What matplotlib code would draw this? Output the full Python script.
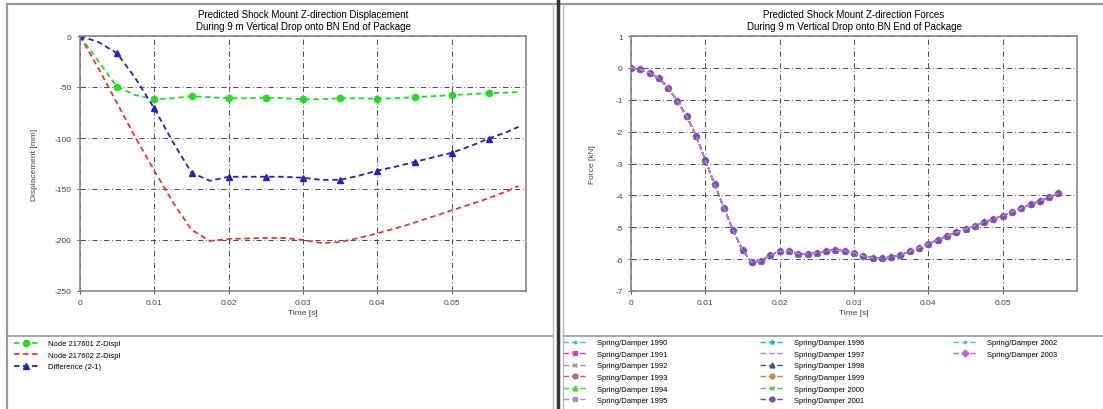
import matplotlib
matplotlib.use("Agg")
import matplotlib.pyplot as plt
from matplotlib.lines import Line2D

plt.rcParams["font.family"] = ["Liberation Sans", "DejaVu Sans"]

W, H = 1103, 410

# displacement data [mm]
t_disp = [0, 0.0025, 0.005, 0.0075, 0.01, 0.0125, 0.015, 0.0175, 0.02, 0.0225,
          0.025, 0.0275, 0.03, 0.0325, 0.035, 0.0375, 0.04, 0.0425, 0.045, 0.0475,
          0.05, 0.0525, 0.055, 0.0575, 0.059]
node1_disp = [0, -25, -50, -58, -62, -61, -59, -60, -61, -61,
              -60.5, -61, -62, -62, -61, -61, -61.5, -61, -60, -59,
              -58, -57, -56, -55.5, -55]
node2_disp = [0, -32, -66, -100, -132, -163, -190, -201, -199, -198.5,
              -198, -198, -200, -203, -202, -198, -193.5, -188.5, -183, -177,
              -171, -165, -159, -152, -147]
diff_disp = [0, -6, -17, -42, -71, -104, -134, -142, -138, -138,
             -138, -138, -139, -141, -141, -137, -132, -128, -123.5, -119,
             -114.5, -108, -100.5, -94, -89]
disp_labels = ["Node 217601 Z-Displ", "Node 217602 Z-Displ", "Difference (2-1)"]

# spring/damper force data [kN]
t_force = [0, 0.00125, 0.0025, 0.00375, 0.005, 0.00625, 0.0075, 0.00875, 0.01, 0.01125,
           0.0125, 0.01375, 0.015, 0.01625, 0.0175, 0.01875, 0.02, 0.02125, 0.0225, 0.02375,
           0.025, 0.02625, 0.0275, 0.02875, 0.03, 0.03125, 0.0325, 0.03375, 0.035, 0.03625,
           0.0375, 0.03875, 0.04, 0.04125, 0.0425, 0.04375, 0.045, 0.04625, 0.0475, 0.04875,
           0.05, 0.05125, 0.0525, 0.05375, 0.055, 0.05625, 0.0575]
force = [0.0, -0.05, -0.15, -0.33, -0.62, -1.05, -1.52, -2.13, -2.9, -3.65,
         -4.4, -5.1, -5.72, -6.1, -6.05, -5.88, -5.75, -5.74, -5.83, -5.84,
         -5.81, -5.74, -5.71, -5.74, -5.8, -5.9, -5.96, -5.98, -5.93, -5.87,
         -5.76, -5.64, -5.52, -5.4, -5.27, -5.16, -5.06, -4.95, -4.84, -4.74,
         -4.64, -4.51, -4.4, -4.28, -4.18, -4.06, -3.93]
damper_ids = [1990, 1991, 1992, 1993, 1994, 1995, 1996, 1997, 1998, 1999,
              2000, 2001, 2002, 2003]
damper_colors = ["#33cccc", "#cc44cc", "#999999", "#bb6666", "#44dd44", "#9999cc",
                 "#22bbcc", "#dd77cc", "#445577", "#cc8855", "#55cc55", "#6655bb",
                 "#44cccc", "#bb66cc"]
damper_markers = [".", "s", "x", "o", "^", "s", "*", "", "^", "o", "x", "o", ".", "D"]

disp_ticks_x = [0, 0.01, 0.02, 0.03, 0.04, 0.05]
disp_ticks_y = [0, -50, -100, -150, -200, -250]
force_ticks_y = [1, 0, -1, -2, -3, -4, -5, -6, -7]


def px(x):
    return x / W


def py(y):
    return 1 - y / H


def style_axes(ax, yticks):
    ax.set_xlim(0, 0.06)
    ax.set_xticks(disp_ticks_x)
    ax.set_xticklabels(["0", "0.01", "0.02", "0.03", "0.04", "0.05"])
    ax.set_yticks(yticks)
    ax.set_ylim(min(yticks), max(yticks))
    ax.grid(True, color="#444444", linestyle=(0, (6, 3, 1, 3)), linewidth=0.65)
    for s in ax.spines.values():
        s.set_color("#888888")
        s.set_linewidth(1.2)
    ax.tick_params(labelsize=6, colors="#444444", direction="inout", length=5, width=0.6)
    ax.set_xlabel("Time [s]", fontsize=6, color="#444444", labelpad=2)


fig = plt.figure(figsize=(W / 100, H / 100), dpi=100)

ax1 = fig.add_axes([px(80), py(292), px(446), (292 - 37) / H])
ax2 = fig.add_axes([px(631), py(292), px(446), (292 - 37) / H])

# left: displacement
h1, = ax1.plot(t_disp, node1_disp, color="#22dd22", linestyle=(0, (3, 2)), linewidth=1.3,
               marker="o", markersize=4.5, markevery=list(range(2, 23, 2)))
h2, = ax1.plot(t_disp, node2_disp, color="#ee3333", linestyle=(0, (3, 2)), linewidth=1.3)
h3, = ax1.plot(t_disp, diff_disp, color="#2222cc", linestyle=(0, (3, 2)), linewidth=1.3,
               marker="^", markersize=4.5, markevery=[0] + list(range(2, 23, 2)))
style_axes(ax1, disp_ticks_y)
ax1.set_yticklabels([str(v) for v in disp_ticks_y])
ax1.set_ylabel("Displacement [mm]", fontsize=6, color="#444444", labelpad=12)
ax1.set_title("Predicted Shock Mount Z-direction Displacement\n"
              "During 9 m Vertical Drop onto BN End of Package", fontsize=7, pad=5)

# right: forces
handles = []
for i, did in enumerate(damper_ids):
    z = 3 + i
    if did == 2001:
        z = 30
    if did == 1997:
        z = 31
    h, = ax2.plot(t_force, force, color=damper_colors[i], linestyle=(0, (4, 2)), linewidth=1.0,
                  marker=damper_markers[i] if damper_markers[i] else None, markersize=3.5,
                  label=f"Spring/Damper {did}", zorder=z)
    handles.append(h)
style_axes(ax2, force_ticks_y)
ax2.set_yticklabels([str(v) for v in force_ticks_y])
ax2.set_ylabel("Force [kN]", fontsize=6, color="#444444", labelpad=14)
ax2.set_title("Predicted Shock Mount Z-direction Forces\n"
              "During 9 m Vertical Drop onto BN End of Package", fontsize=7, pad=5)

# legends
leg_kw = dict(frameon=False, fontsize=5.5, handlelength=3.2, handletextpad=1.2,
              labelspacing=0.55, borderaxespad=0, borderpad=0)
fig.legend([h1, h2, h3], disp_labels, loc="upper left",
           bbox_to_anchor=(px(14), py(341)), **leg_kw)
for c, x0 in enumerate([563, 760, 953]):
    hs = handles[c * 6:(c + 1) * 6]
    fig.legend(hs, [h.get_label() for h in hs], loc="upper left",
               bbox_to_anchor=(px(x0), py(340)), **leg_kw)


# panel frames
def fline(xs, ys, color, lw):
    fig.add_artist(Line2D([px(x) for x in xs], [py(y) for y in ys], color=color,
                          linewidth=lw, transform=fig.transFigure))


fline([7, W], [5, 5], "#999999", 1.6)
fline([7, 7], [5, H], "#999999", 1.6)
fline([7, 553], [337, 337], "#999999", 1.2)
fline([563, W], [337, 337], "#999999", 1.2)
fline([553, 553], [5, H], "#bbbbbb", 1.0)
fline([558, 558], [0, H], "#333333", 2.5)
fline([563, 563], [5, H], "#bbbbbb", 1.0)

fig.savefig("out.png", dpi=100)
